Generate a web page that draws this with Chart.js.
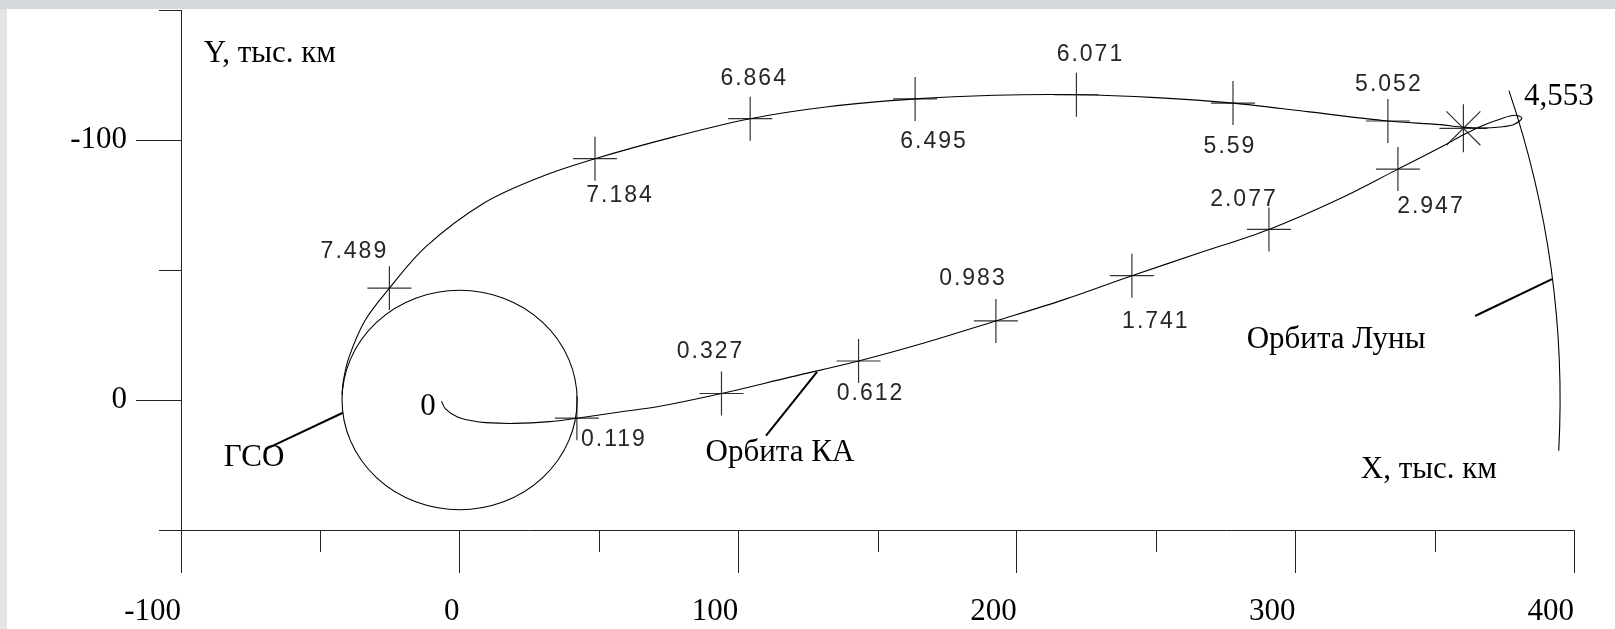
<!DOCTYPE html>
<html>
<head>
<meta charset="utf-8">
<script src="https://cdn.jsdelivr.net/npm/chart.js@4.4.0/dist/chart.umd.min.js"></script>
<style>
  html, body { margin: 0; padding: 0; background: #fff; }
  canvas { display: block; }
</style>
</head>
<body>
<canvas id="orbit" width="1615" height="629"></canvas>
<script>
// spacecraft path, thousand km, in time order
const pathX = [-6.5, -5.0, -0.9, 4.5, 9.4, 19.6, 32.4, 42.1, 58.1, 70.9, 94.0, 119.0, 143.2, 167.3, 192.5,
  217.2, 241.3, 265.4, 290.5, 315.3, 336.8, 353.0, 360.3, 367.3, 373.4, 378.8, 381.3, 378.4, 373.4, 367.3,
  360.3, 352.0, 333.2, 305.0, 277.6, 250.0, 221.4, 192.0, 163.5, 132.2, 104.3, 77.2, 48.6, 29.1, 8.5, -12.1,
  -25.2, -34.0, -39.7, -41.7, -42.2]
const pathY = [0.5, 3.5, 6.4, 8.0, 8.7, 9.0, 8.3, 7.0, 4.5, 2.6, -2.5, -8.9, -15.0, -22.1, -30.4,
  -38.7, -47.8, -56.5, -65.6, -77.1, -88.8, -97.7, -102.0, -105.6, -108.0, -109.5, -108.4, -106.0, -105.0, -104.6,
  -104.9, -105.9, -107.3, -110.8, -114.2, -116.3, -117.4, -117.2, -115.8, -112.8, -108.2, -101.3, -92.8, -85.8, -75.6, -59.0,
  -43.0, -30.5, -16.5, -7.5, -2.0]

// time marks along the path, days
const markLabels = ['0.119', '0.327', '0.612', '0.983', '1.741', '2.077', '2.947',
  '5.052', '5.59', '6.071', '6.495', '6.864', '7.184', '7.489']
const markX = [42.1, 94.0, 143.2, 192.5, 241.3, 290.5, 336.8, 333.2, 277.6, 221.4, 163.5, 104.3, 48.6, -25.2]
const markY = [7.0, -2.5, -15.0, -30.4, -47.8, -65.6, -88.8, -107.3, -114.2, -117.4, -115.8, -108.2, -92.8, -43.0]

// apogee (star mark)
const apogeeLabel = '4,553'
const apogeeX = [360.3]
const apogeeY = [-104.5]

// reference orbits, thousand km
const gsoRadius = 42.2
const moonRadius = 395
const moonArcY = [-119, 19.5]

// labelled ticks
const xTicks = [-100, 0, 100, 200, 300, 400]
const yTicks = [-100, 0]

// where the small numbers sit next to their crosses (px)
const markLabelShift = [[37, 21], [-11, -42], [12, 33], [-23, -42], [24, 46], [-25, -30], [33, 38],
  [1, -36], [-3, 44], [14, -40], [19, 43], [4, -40], [25, 37], [-35, -37]]

// captions and leader lines, in chart units
const notes = [
  { text: 'Y, тыс. км', x: -68.1, y: -133.1 },
  { text: 'X, тыс. км', x: 347.9, y: 26.9 },
  { text: 'Орбита Луны', x: 314.6, y: -23 },
  { text: 'Орбита КА', x: 115, y: 20.4 },
  { text: 'ГСО', x: -73.8, y: 22.3 },
  { text: '0', x: -11.3, y: 2.7 },
  { text: apogeeLabel, x: 394.6, y: -116.5 }
]
const leaders = [
  [[-69.6, 18.9], [-41.9, 4.9]],
  [[110, 13.7], [128.3, -10.8]],
  [[364.5, -32.3], [392.1, -46.5]]
]

const serif = '"Liberation Serif", "Times New Roman", serif'
const sans = '"Liberation Sans", Arial, sans-serif'

// grey scan edges round a white sheet
const paper = {
  id: 'paper',
  beforeDraw (chart) {
    const ctx = chart.ctx
    ctx.save()
    ctx.fillStyle = '#fff'
    ctx.fillRect(0, 0, chart.width, chart.height)
    ctx.fillStyle = '#e2e4e5'
    ctx.fillRect(0, 0, 7, chart.height)
    ctx.fillStyle = '#d3d9dd'
    ctx.fillRect(0, 0, chart.width, 9)
    ctx.restore()
  }
}

// orbits, minor ticks, leader lines and all the captions
const extras = {
  id: 'extras',
  afterDraw (chart) {
    const ctx = chart.ctx
    const xs = chart.scales.x
    const ys = chart.scales.y
    const at = (x, y) => [xs.getPixelForValue(x), ys.getPixelForValue(y)]
    const line = (x1, y1, x2, y2) => {
      ctx.beginPath()
      ctx.moveTo(x1, y1)
      ctx.lineTo(x2, y2)
      ctx.stroke()
    }
    ctx.save()

    // minor ticks are shorter than the labelled ones
    ctx.strokeStyle = '#222'
    ctx.lineWidth = 1
    xs.ticks.forEach((t) => {
      if (xTicks.includes(t.value)) return
      const p = Math.round(xs.getPixelForValue(t.value)) + 0.5
      line(p, xs.top, p, xs.top + 22)
    })
    ys.ticks.forEach((t) => {
      if (yTicks.includes(t.value)) return
      const p = Math.round(ys.getPixelForValue(t.value)) + 0.5
      line(ys.right - 22, p, ys.right, p)
    })

    // GSO circle and Moon orbit arc
    const [cx, cy] = at(0, 0)
    ctx.strokeStyle = '#000'
    ctx.lineWidth = 1.1
    let rx = xs.getPixelForValue(gsoRadius) - cx
    let ry = ys.getPixelForValue(gsoRadius) - cy
    ctx.beginPath()
    ctx.ellipse(cx, cy, rx, ry, 0, 0, Math.PI * 2)
    ctx.stroke()
    rx = xs.getPixelForValue(moonRadius) - cx
    ry = ys.getPixelForValue(moonRadius) - cy
    ctx.beginPath()
    ctx.ellipse(cx, cy, rx, ry, 0, Math.asin(moonArcY[0] / moonRadius), Math.asin(moonArcY[1] / moonRadius))
    ctx.stroke()

    // leader lines
    ctx.lineWidth = 2
    leaders.forEach(([a, b]) => {
      const [x1, y1] = at(a[0], a[1])
      const [x2, y2] = at(b[0], b[1])
      line(x1, y1, x2, y2)
    })

    // day numbers by the crosses
    ctx.fillStyle = '#262626'
    ctx.font = '23px ' + sans
    ctx.letterSpacing = '2px'
    ctx.textAlign = 'center'
    ctx.textBaseline = 'middle'
    markLabels.forEach((label, i) => {
      const [x, y] = at(markX[i], markY[i])
      ctx.fillText(label, x + markLabelShift[i][0], y + markLabelShift[i][1])
    })

    // captions
    ctx.letterSpacing = '0px'
    ctx.fillStyle = '#000'
    ctx.font = '31px ' + serif
    notes.forEach((n) => {
      const [x, y] = at(n.x, n.y)
      ctx.fillText(n.text, x, y)
    })
    ctx.restore()
  }
}

const tickColour = (ctx, list) => (ctx.tick && list.includes(ctx.tick.value) ? '#222' : 'rgba(0,0,0,0)')

const chart = new Chart(document.getElementById('orbit'), {
  type: 'scatter',
  data: {
    datasets: [
      {
        data: pathX.map((x, i) => ({ x, y: pathY[i] })),
        showLine: true,
        borderColor: '#000',
        borderWidth: 1.1,
        pointRadius: 0,
        tension: 0.35,
        fill: false
      },
      {
        data: markX.map((x, i) => ({ x, y: markY[i] })),
        pointStyle: 'cross',
        pointRadius: 22,
        borderColor: '#333',
        borderWidth: 1.2
      },
      {
        data: apogeeX.map((x, i) => ({ x, y: apogeeY[i] })),
        pointStyle: 'star',
        pointRadius: 24,
        borderColor: '#333',
        borderWidth: 1.2
      }
    ]
  },
  options: {
    responsive: false,
    animation: false,
    devicePixelRatio: 1,
    layout: { autoPadding: false, padding: { top: 10, right: 41, bottom: 0, left: 0 } },
    plugins: { legend: { display: false }, tooltip: { enabled: false } },
    scales: {
      x: {
        type: 'linear',
        position: 'bottom',
        min: -100,
        max: 400,
        border: { display: true, color: '#222', width: 1 },
        grid: { drawOnChartArea: false, tickLength: 43, tickWidth: 1, tickColor: (ctx) => tickColour(ctx, xTicks) },
        ticks: {
          stepSize: 50,
          autoSkip: false,
          maxRotation: 0,
          align: 'end',
          padding: 20,
          color: '#000',
          font: { family: serif, size: 31 },
          callback: (v) => (xTicks.includes(v) ? String(v) : '')
        },
        afterFit: (scale) => {
          scale.height = 99
          scale.paddingLeft = 0
          scale.paddingRight = 0
        }
      },
      y: {
        type: 'linear',
        reverse: true,
        min: -150,
        max: 50,
        border: { display: true, color: '#222', width: 1 },
        grid: { drawOnChartArea: false, tickLength: 45, tickWidth: 1, tickColor: (ctx) => tickColour(ctx, yTicks) },
        ticks: {
          stepSize: 50,
          autoSkip: false,
          padding: 9,
          color: '#000',
          font: { family: serif, size: 31 },
          callback: (v) => (yTicks.includes(v) ? String(v) : '')
        },
        afterFit: (scale) => {
          scale.width = 181
          scale.paddingTop = 0
          scale.paddingBottom = 0
        }
      }
    }
  },
  plugins: [paper, extras]
})
</script>
</body>
</html>
